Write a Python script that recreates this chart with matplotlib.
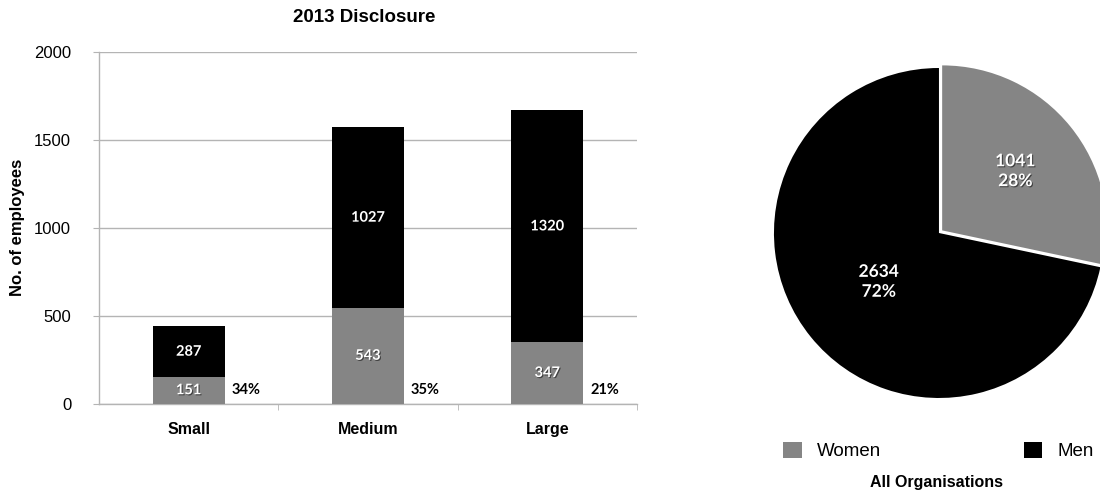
import matplotlib
matplotlib.use('Agg')
import matplotlib.pyplot as plt
import matplotlib.patheffects as pe
from matplotlib.patches import Patch
import numpy as np

# данные
sizes = ['Small', 'Medium', 'Large']
women = [151, 543, 347]
men = [287, 1027, 1320]
pct_labels = ['34%', '35%', '21%']

pie_labels = ['Women', 'Men']
pie_values = [sum(women), sum(men)]
pie_pct = ['28%', '72%']

grey = '#858585'
black = '#000000'
axis_grey = '#b4b4b4'

plt.rcParams['font.family'] = ['Liberation Sans', 'DejaVu Sans']

fig = plt.figure(figsize=(11, 4.93), dpi=100)

# ---- столбчатая диаграмма ----
ax = fig.add_axes([0.09, 0.1815, 0.489, 0.7136])
x = np.arange(len(sizes))
ax.bar(x, women, width=0.4, color=grey, zorder=3)
ax.bar(x, men, width=0.4, bottom=women, color=black, zorder=3)

shadow = [pe.SimplePatchShadow(offset=(0.8, -0.8), shadow_rgbFace='black', alpha=0.5), pe.Normal()]
for i in range(len(sizes)):
    ax.text(x[i], women[i] / 2, str(women[i]), ha='center', va='center', color='white',
            fontsize=10.5, fontweight='bold', family='Lato', path_effects=shadow, zorder=4)
    ax.text(x[i], women[i] + men[i] / 2, str(men[i]), ha='center', va='center', color='white',
            fontsize=10.5, fontweight='bold', family='Lato', path_effects=shadow, zorder=4)
    ax.text(x[i] + 0.24, 75, pct_labels[i], ha='left', va='center', color='black',
            fontsize=10.5, fontweight='bold', family='Lato', zorder=4)

ax.set_xlim(-0.5, 2.5)
ax.set_ylim(0, 2000)
ax.set_yticks([0, 500, 1000, 1500, 2000])
ax.set_xticks(x)
ax.set_xticklabels(sizes, fontweight='bold', fontsize=11.5)
ax.set_xticks([0.5, 1.5, 2.5], minor=True)
ax.tick_params(axis='x', which='major', length=0, pad=13)
ax.tick_params(axis='x', which='minor', length=4, color=axis_grey)
ax.tick_params(axis='y', length=4, color=axis_grey, pad=16, labelsize=12)
ax.grid(axis='y', color=axis_grey, linewidth=1, zorder=0)
for s in ['top', 'right']:
    ax.spines[s].set_visible(False)
for s in ['left', 'bottom']:
    ax.spines[s].set_color(axis_grey)
    ax.spines[s].set_linewidth(1)
ax.set_ylabel('No. of employees', fontweight='bold', fontsize=12)
ax.yaxis.set_label_coords(-0.138, 0.5)
fig.text(364 / 1100, 1 - 18 / 493, '2013 Disclosure', ha='center', va='center',
         fontsize=13.5, fontweight='bold')

# ---- круговая диаграмма ----
ax2 = fig.add_axes([0.8536 - 0.15, 0.5274 - 0.3347, 0.3, 0.6694])
wedges, _ = ax2.pie(pie_values, colors=[grey, black], startangle=90, counterclock=False,
                    explode=[0.025, 0], radius=1)
ax2.set_xlim(-1, 1)
ax2.set_ylim(-1, 1)
dists = [0.57, 0.47]
for w, v, p, d in zip(wedges, pie_values, pie_pct, dists):
    ang = np.deg2rad((w.theta1 + w.theta2) / 2)
    cx, cy = w.center
    ax2.text(cx + d * np.cos(ang), cy + d * np.sin(ang), f'{v}\n{p}', ha='center', va='center',
             color='white', fontsize=12.5, fontweight='bold', family='Lato',
             linespacing=1.3, path_effects=shadow)

handles = [Patch(facecolor=grey), Patch(facecolor=black)]
fig.legend(handles, pie_labels, ncol=2, loc='center left', bbox_to_anchor=(783 / 1100, 1 - 451 / 493),
           frameon=False, fontsize=13.5, handlelength=1.0, handleheight=1.0, handletextpad=0.8,
           columnspacing=7.6, borderpad=0, borderaxespad=0)
fig.text(937 / 1100, 1 - 483 / 493, 'All Organisations', ha='center', va='center',
         fontsize=11.5, fontweight='bold')

plt.savefig('out.png', dpi=100)
